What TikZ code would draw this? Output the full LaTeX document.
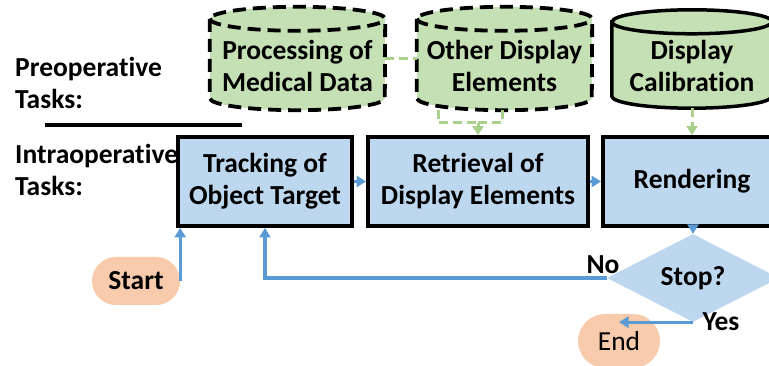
\documentclass[tikz,border=0pt]{standalone}
\usepackage{fontspec}
\setmainfont{Carlito}[Ligatures=NoCommon]
\usetikzlibrary{shapes.geometric,shapes.misc,arrows.meta}
\definecolor{boxblue}{RGB}{189,215,238}
\definecolor{cylgreen}{RGB}{197,224,180}
\definecolor{linegreen}{RGB}{169,209,142}
\definecolor{arrowblue}{RGB}{91,155,213}
\definecolor{termfill}{RGB}{248,203,173}
\newcommand{\mycyl}[3]{%
  \path[#2,fill=cylgreen] ([yshift=-12pt]#1.north west) -- ([yshift=12pt]#1.south west)
    arc[start angle=180,end angle=360,x radius=#3,y radius=12pt]
    -- ([yshift=-12pt]#1.north east)
    arc[start angle=0,end angle=180,x radius=#3,y radius=12pt] -- cycle;
  \path[#2] ([yshift=-12pt]#1.north west) arc[start angle=180,end angle=360,x radius=#3,y radius=12pt];
}
\begin{document}
\begin{tikzpicture}[x=1pt,y=1pt,
  font=\bfseries\fontsize{27.5}{32}\selectfont,
  procbox/.style={draw=black,line width=3.8pt,fill=boxblue,align=center,inner sep=0pt},
  cylnode/.style={inner sep=0pt,minimum height=103pt},
  txt/.style={align=center,inner sep=0pt,text=black},
  cyldash/.style={draw=black,line width=3.8pt,dash pattern=on 13pt off 7pt},
  cylsolid/.style={draw=black,line width=3.5pt},
  bluearrow/.style={draw=arrowblue,line width=3.2pt,-{Triangle[length=9.5pt,width=11pt]}},
  greendash/.style={draw=linegreen,line width=3pt,dash pattern=on 9pt off 5pt},
  greenarrow/.style={greendash,-{Triangle[length=9pt,width=11pt,fill=linegreen]}},
  term/.style={rounded rectangle,fill=termfill,inner sep=0pt,align=center}
]
\useasboundingbox (0,0) rectangle (769,366);
\clip (0,0) rectangle (769,366);
\fill[white] (0,0) rectangle (769,366);

% left labels
\node[txt,anchor=west,align=left] (pre) at (15,283) {Preoperative\\Tasks:};
\node[txt,anchor=west,align=left] (intra) at (15,196) {Intraoperative\\Tasks:};
\coordinate (sepA) at (45,241);
\coordinate (sepB) at (242,241);
\draw[line width=4pt] (sepA) -- (sepB);

% cylinders
\node[cylnode,minimum width=175pt] (c1) at (297.5,307.5) {};
\node[cylnode,minimum width=175pt] (c2) at (504.5,307.5) {};
\node[cylnode,minimum width=160pt,minimum height=98pt] (c3) at (692,307) {};
\mycyl{c1}{cyldash}{87.5pt}
\mycyl{c2}{cyldash}{87.5pt}
\mycyl{c3}{cylsolid}{80pt}
\node[txt] (c1t) at (297.5,300) {Processing of\\Medical Data};
\node[txt] (c2t) at (504.5,300) {Other Display\\Elements};
\node[txt] (c3t) at (692,300) {Display\\Calibration};

% process boxes
\node[procbox,minimum width=174pt,minimum height=89pt] (b1) at (265,184.5) {Tracking of\\Object Target};
\node[procbox,minimum width=220pt,minimum height=89pt] (b2) at (478,184.5) {Retrieval of\\Display Elements};
\node[procbox,minimum width=178pt,minimum height=89pt] (b3) at (692,184.5) {Rendering};

% decision and terminals
\node[diamond,fill=boxblue,minimum width=172pt,minimum height=72pt,inner sep=0pt,text=black] (dia) at (693,88) {Stop?};
\node[term,minimum width=88pt,minimum height=48pt] (start) at (136,85) {Start};
\node[term,minimum width=82pt,minimum height=54pt,font=\mdseries\fontsize{27.5}{32}\selectfont] (end) at (619,25) {End};

% green dashed connectors
\draw[greendash] (c1.east) -- (c2.west);
\coordinate (j1) at (438,256);
\coordinate (j2) at (502,256);
\coordinate (jm) at (478,243);
\draw[greendash] (j1) |- (jm);
\draw[greendash] (j2) |- (jm);
\draw[greenarrow] (jm) -- (b2.north);
\draw[greenarrow] (c3.south) -- (b3.north);

% blue flow
\draw[bluearrow] (b1.east) -- (b2.west);
\draw[bluearrow] (b2.east) -- (b3.west);
\draw[bluearrow] (b3.south -| dia.north) -- (dia.north);
\draw[bluearrow] (start.east) -- (start.east |- b1.south);
\draw[bluearrow] (dia.west) -| (b1.south);
\draw[bluearrow] (dia.south) -- (dia.south -| end.north);
\node[txt] (nolbl) at (603,101) {No};
\node[txt] (yeslbl) at (721,44) {Yes};
\end{tikzpicture}
\end{document}
